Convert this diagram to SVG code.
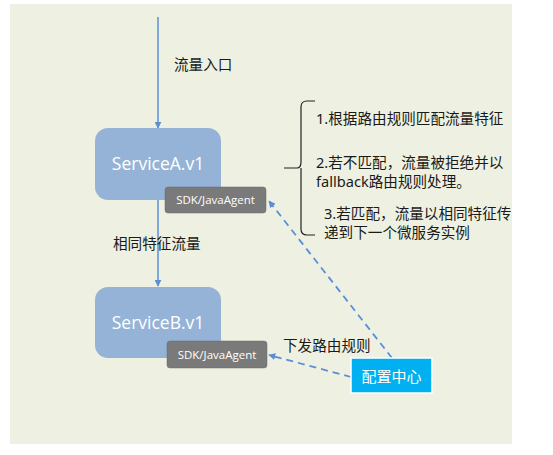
<svg xmlns="http://www.w3.org/2000/svg" width="553" height="455" viewBox="0 0 553 455">
<defs>
<marker id="ah" viewBox="0 0 10 10" refX="9" refY="5" markerWidth="7" markerHeight="7" markerUnits="userSpaceOnUse" orient="auto"><path d="M0,0 L10,5 L0,10 z" fill="#5A8ED6"/></marker>
<style>
.svc{fill:#95B3D7}
.sdk{fill:#7A7A7A;stroke:#6A6A6A;stroke-width:0.5}
.svct{font-family:"Open Sans","Noto Sans",sans-serif;font-size:17.5px;fill:#fff;text-anchor:middle}
.sdkt{font-family:"Open Sans","Noto Sans",sans-serif;font-size:11.5px;fill:#fff;text-anchor:middle}
.lbl{font-family:"Noto Sans","Noto Sans CJK SC",sans-serif;font-size:14.6px;fill:#1a1a1a}
.flow{stroke:#5A8ED6;stroke-width:1.5;fill:none}
.dash{stroke:#5A8ED6;stroke-width:1.8;fill:none;stroke-dasharray:7 5}
</style>
</defs>
<rect x="0" y="0" width="553" height="455" fill="#fff"/>
<rect x="10" y="4" width="502" height="440" fill="#EEF1E1"/>
<g id="connectors">
<line class="flow" x1="158" y1="17" x2="158" y2="128" marker-end="url(#ah)"/>
<line class="flow" x1="158" y1="200" x2="158" y2="286" marker-end="url(#ah)"/>
<line class="dash" x1="392" y1="358" x2="269" y2="201" marker-end="url(#ah)"/>
<line class="dash" x1="351" y1="377" x2="269" y2="355" marker-end="url(#ah)"/>
<path d="M284,168 L297,168 Q301,168 301,162 L301,107 Q301,101 307,101 L315,101 M301,168 L301,229 Q301,235 307,235 L315,235" stroke="#222" stroke-width="1.2" fill="none"/>
</g>
<g id="serviceA">
<rect class="svc" x="95" y="128" width="126" height="72" rx="13"/>
<text class="svct" x="158" y="170">ServiceA.v1</text>
</g>
<g id="sdkA">
<rect class="sdk" x="165" y="187" width="101" height="26" rx="3"/>
<text class="sdkt" x="215.5" y="204">SDK/JavaAgent</text>
</g>
<g id="serviceB">
<rect class="svc" x="95" y="287" width="126" height="71" rx="13"/>
<text class="svct" x="158" y="329">ServiceB.v1</text>
</g>
<g id="sdkB">
<rect class="sdk" x="167" y="341" width="100" height="27" rx="3"/>
<text class="sdkt" x="217" y="359">SDK/JavaAgent</text>
</g>
<g id="config">
<rect x="351" y="358" width="81" height="35" fill="#00B0F0" stroke="#fff" stroke-width="1.5"/>
<text x="391.5" y="382" font-family="Noto Sans CJK SC,sans-serif" font-size="15" fill="#fff" text-anchor="middle">配置中心</text>
</g>
<g id="labels">
<text class="lbl" x="174" y="70">流量入口</text>
<text class="lbl" x="113" y="249">相同特征流量</text>
<text class="lbl" x="283" y="351">下发路由规则</text>
<text class="lbl" x="316" y="124">1.根据路由规则匹配流量特征</text>
<text class="lbl" x="316" y="168">2.若不匹配，流量被拒绝并以</text>
<text class="lbl" x="316" y="187">fallback路由规则处理。</text>
<text class="lbl" x="324" y="219">3.若匹配，流量以相同特征传</text>
<text class="lbl" x="324" y="238">递到下一个微服务实例</text>
</g>
</svg>
